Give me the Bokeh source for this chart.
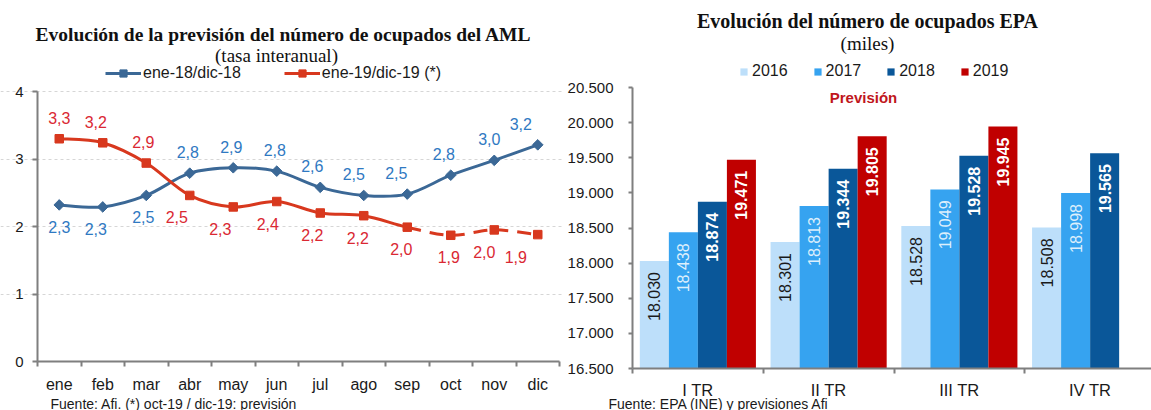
import numpy as np
from bokeh.plotting import figure
from bokeh.layouts import row
from bokeh.models import Range1d, FixedTicker, Label, Legend, LegendItem, ColumnDataSource
from bokeh.embed import file_html
from bokeh.resources import INLINE
from bokeh.core.properties import value

# ------------------------------------------------------------------ data
months = ["ene", "feb", "mar", "abr", "may", "jun", "jul", "ago", "sep", "oct", "nov", "dic"]
aml_2018 = [2.32, 2.29, 2.46, 2.79, 2.87, 2.82, 2.58, 2.46, 2.48, 2.76, 2.98, 3.21]
aml_2018_labels = ["2,3", "2,3", "2,5", "2,8", "2,9", "2,8", "2,6", "2,5", "2,5", "2,8", "3,0", "3,2"]
aml_2019 = [3.30, 3.24, 2.94, 2.46, 2.29, 2.37, 2.20, 2.16, 1.99, 1.87, 1.95, 1.88]
aml_2019_labels = ["3,3", "3,2", "2,9", "2,5", "2,3", "2,4", "2,2", "2,2", "2,0", "1,9", "2,0", "1,9"]
last_observed = "sep"          # oct-19 / dic-19 are forecasts

quarters = ["I TR", "II TR", "III TR", "IV TR"]
years = ["2016", "2017", "2018", "2019"]
ocup_2016 = [18030, 18301, 18528, 18508]
ocup_2017 = [18438, 18813, 19049, 18998]
ocup_2018 = [18874, 19344, 19528, 19565]
ocup_2019 = [19471, 19805, 19945, None]

# ------------------------------------------------------------------ styles / layout (pixels)
SANS = "Liberation Sans"
SERIF = "Liberation Serif"
BLUE_LINE = "#3B6896"
BLUE_TXT = "#2F79C2"
RED_LINE = "#D8381E"
RED_TXT = "#DA2833"
AXIS = "#7F7F7F"
INK = "#1A1A1A"
TITLE_INK = "#111111"
BAR_COLORS = ["#BDDFFA", "#36A3F0", "#0A5799", "#C00000"]
BAR_TXT = ["#1A1A1A", "#DDEFFC", "#FFFFFF", "#FFFFFF"]
BAR_TXT_STYLE = ["normal", "normal", "bold", "bold"]
dx_2018 = [0, -7, -3, -2, -2, -2, -8, -10, -11, -7, -5, -17]
dx_2019 = [0, -7, -3, -13, -13, -9, -8, -6, -6, -2, -10, -22]

H = 410
W1 = 564
W2 = 1151 - W1
# left plot area (page px): x 37..559, y 91 (=4) .. 361 (=0)
L_X0, L_X1, L_YTOP, L_YBOT = 37, 559, 91, 361
# right plot area (page px): x 632.., group width 130.75, y 87 (=20500) .. 368 (=16500)
R_X0, R_GROUP, R_YTOP, R_YBOT = 632, 130.75, 87, 368


def smooth_segments(xs, ys):
    P = np.column_stack([xs, ys]).astype(float)
    Pp = np.vstack([P[:1], P, P[-1:]])
    c0 = P[:-1] + (Pp[2:-1] - Pp[:-3]) / 6.0
    c1 = P[1:] - (Pp[3:] - Pp[1:-2]) / 6.0
    return dict(x0=P[:-1, 0], y0=P[:-1, 1], x1=P[1:, 0], y1=P[1:, 1],
                cx0=c0[:, 0], cy0=c0[:, 1], cx1=c1[:, 0], cy1=c1[:, 1])


def subset(d, sl):
    return {k: v[sl] for k, v in d.items()}


def style_axis(ax, size="15px"):
    ax.axis_line_color = AXIS
    ax.axis_line_width = 2
    ax.major_label_text_font = SANS
    ax.major_label_text_font_size = size
    ax.major_label_text_color = INK


def text_label(p, x, y, text, font=SANS, size="16px", style="normal", color=INK, align="center"):
    p.add_layout(Label(x=x, y=y, x_units="screen", y_units="screen", text=text,
                       text_font=font, text_font_size=size, text_font_style=style,
                       text_color=color, text_align=align, text_baseline="middle"))


# ------------------------------------------------------------------ left chart
n = len(months)
xm = np.arange(1, n + 1)
ux = (L_X1 - L_X0) / n
uy = (L_YBOT - L_YTOP) / 4.0
p1 = figure(width=W1, height=H, title=None,
            x_range=Range1d(0.5 - L_X0 / ux, 0.5 + (W1 - L_X0) / ux),
            y_range=Range1d(-(H - L_YBOT) / uy, 4 + L_YTOP / uy),
            output_backend="svg", toolbar_location=None, min_border=0)
p1.outline_line_color = None
p1.xgrid.visible = False
p1.ygrid.ticker = FixedTicker(ticks=[1, 2, 3, 4])
p1.ygrid.bounds = (0.5, n + 0.5)
p1.ygrid.grid_line_color = "#D6D6D6"
p1.ygrid.grid_line_dash = "3 3"

xa = p1.xaxis[0]
xa.fixed_location = 0
xa.bounds = (0.5, n + 0.5)
xa.ticker = FixedTicker(ticks=list(xm), minor_ticks=list(np.arange(0.5, n + 1, 1.0)))
xa.major_label_overrides = {int(i): m for i, m in zip(xm, months)}
xa.major_tick_out = 0
xa.major_tick_in = 0
xa.minor_tick_out = 5
xa.minor_tick_in = 0
xa.minor_tick_line_color = AXIS
xa.minor_tick_line_width = 2
xa.major_label_standoff = 9
ya = p1.yaxis[0]
ya.fixed_location = 0.5
ya.bounds = (0, 4)
ya.ticker = FixedTicker(ticks=[0, 1, 2, 3, 4])
ya.major_tick_out = 5
ya.major_tick_in = 0
ya.major_tick_line_color = AXIS
ya.major_tick_line_width = 2
ya.minor_tick_line_color = None
ya.major_label_standoff = 9
style_axis(xa, "16px")
style_axis(ya, "15px")

seg18 = smooth_segments(xm, aml_2018)
seg19 = smooth_segments(xm, aml_2019)
k = months.index(last_observed)
bez = dict(x0="x0", y0="y0", x1="x1", y1="y1", cx0="cx0", cy0="cy0", cx1="cx1", cy1="cy1")
p1.bezier(source=ColumnDataSource(seg18), line_color=BLUE_LINE, line_width=3, **bez)
p1.bezier(source=ColumnDataSource(subset(seg19, slice(0, k))), line_color=RED_LINE, line_width=3, **bez)
p1.bezier(source=ColumnDataSource(subset(seg19, slice(k, None))), line_color=RED_LINE, line_width=3,
          line_dash="14 9", **bez)
sb = p1.scatter(xm, aml_2018, marker="square", angle=np.pi / 4, size=7.5, color=BLUE_LINE)
sr = p1.scatter(xm, aml_2019, marker="square", size=8.5, color=RED_LINE)
# one-point line renderers: invisible in the plot, they only give the legend its line
lb = p1.line(xm[:1], aml_2018[:1], line_color=BLUE_LINE, line_width=3)
lr = p1.line(xm[:1], aml_2019[:1], line_color=RED_LINE, line_width=3)

above18 = np.array(aml_2018) >= np.array(aml_2019)
p1.text(x=xm, y=aml_2018, text=aml_2018_labels, x_offset=dx_2018,
        y_offset=[-21 if a else 22 for a in above18],
        text_align="center", text_baseline="middle", text_color=BLUE_TXT,
        text_font=value(SANS), text_font_size="16px")
p1.text(x=xm, y=aml_2019, text=aml_2019_labels, x_offset=dx_2019,
        y_offset=[22 if a else -21 for a in above18],
        text_align="center", text_baseline="middle", text_color=RED_TXT,
        text_font=value(SANS), text_font_size="16px")

leg1 = Legend(items=[LegendItem(label="ene-18/dic-18", renderers=[lb, sb]),
                     LegendItem(label="ene-19/dic-19 (*)", renderers=[lr, sr])],
              location=(105, H - 82), orientation="horizontal", glyph_width=36, glyph_height=18,
              label_standoff=2, spacing=43, padding=0, margin=0, border_line_color=None,
              background_fill_alpha=0, label_text_font=SANS, label_text_font_size="16px",
              label_text_color=INK)
p1.add_layout(leg1)

text_label(p1, 283, H - 34, "Evolución de la previsión del número de ocupados del AML",
           font=SERIF, size="19.5px", style="bold", color=TITLE_INK)
text_label(p1, 276, H - 55, "(tasa interanual)", font=SERIF, size="19px", color=TITLE_INK)
text_label(p1, 50, H - 403, "Fuente: Afi. (*)  oct-19 / dic-19: previsión", size="14px", align="left")

# ------------------------------------------------------------------ right chart
y0, y1 = 16500, 20500
ry = (R_YBOT - R_YTOP) / (y1 - y0)
p2 = figure(width=W2, height=H, title=None,
            x_range=Range1d(0.5 - (R_X0 - W1) / R_GROUP, 0.5 + (W1 + W2 - R_X0) / R_GROUP),
            y_range=Range1d(y0 - (H - R_YBOT) / ry, y1 + R_YTOP / ry),
            output_backend="svg", toolbar_location=None, min_border=0)
p2.outline_line_color = None
p2.grid.visible = False
nq = len(quarters)
qx = np.arange(1, nq + 1)
yticks = list(range(y0, y1 + 1, 500))
ya2 = p2.yaxis[0]
ya2.fixed_location = 0.5
ya2.bounds = (y0, y1)
ya2.ticker = FixedTicker(ticks=yticks)
ya2.major_label_overrides = {t: f"{t:,}".replace(",", ".") for t in yticks}
ya2.major_tick_out = 4
ya2.major_tick_in = 0
ya2.major_tick_line_color = AXIS
ya2.major_tick_line_width = 2
ya2.minor_tick_line_color = None
ya2.major_label_standoff = 15
xa2 = p2.xaxis[0]
xa2.fixed_location = y0
xa2.bounds = (0.5, p2.x_range.end)
xa2.ticker = FixedTicker(ticks=list(qx), minor_ticks=list(np.arange(0.5, nq + 1, 1.0)))
xa2.major_label_overrides = {int(i): q for i, q in zip(qx, quarters)}
xa2.major_tick_out = 0
xa2.major_tick_in = 0
xa2.minor_tick_out = 5
xa2.minor_tick_in = 0
xa2.minor_tick_line_color = AXIS
xa2.minor_tick_line_width = 2
xa2.major_label_standoff = 7
style_axis(xa2, "16.5px")
style_axis(ya2, "15px")

bar_w = 0.222
series = [ocup_2016, ocup_2017, ocup_2018, ocup_2019]
leg_items = []
for j, (yr, vals) in enumerate(zip(years, series)):
    xs = [q + (j - 1.5) * bar_w for q, v in zip(qx, vals) if v is not None]
    tops = [v for v in vals if v is not None]
    r = p2.vbar(x=xs, top=tops, bottom=y0, width=bar_w, fill_color=BAR_COLORS[j], line_color=None)
    leg_items.append(LegendItem(label=yr, renderers=[r]))
    p2.text(x=xs, y=tops, text=[f"{v:,}".replace(",", ".") for v in tops], angle=np.pi / 2,
            y_offset=11, text_align="right", text_baseline="middle", text_color=BAR_TXT[j],
            text_font=value(SANS), text_font_size="16px", text_font_style=BAR_TXT_STYLE[j])

leg2 = Legend(items=leg_items, location=(739 - W1, H - 80), orientation="horizontal",
              glyph_width=9, glyph_height=9, label_standoff=4, spacing=25, padding=0, margin=0,
              border_line_color=None, background_fill_alpha=0, label_text_font=SANS,
              label_text_font_size="16px", label_text_color=INK)
p2.add_layout(leg2)

text_label(p2, 867 - W1, H - 20, "Evolución del número de ocupados EPA", font=SERIF, size="20px",
           style="bold", color=TITLE_INK)
text_label(p2, 867 - W1, H - 43, "(miles)", font=SERIF, size="19px", color=TITLE_INK)
text_label(p2, 863 - W1, H - 97, "Previsión", size="15px", style="bold", color="#C0161C")
text_label(p2, 608 - W1, H - 403, "Fuente: EPA  (INE)  y previsiones Afi", size="14px", align="left")

layout = row(p1, p2)
open("out.html", "w").write(file_html(layout, INLINE))
